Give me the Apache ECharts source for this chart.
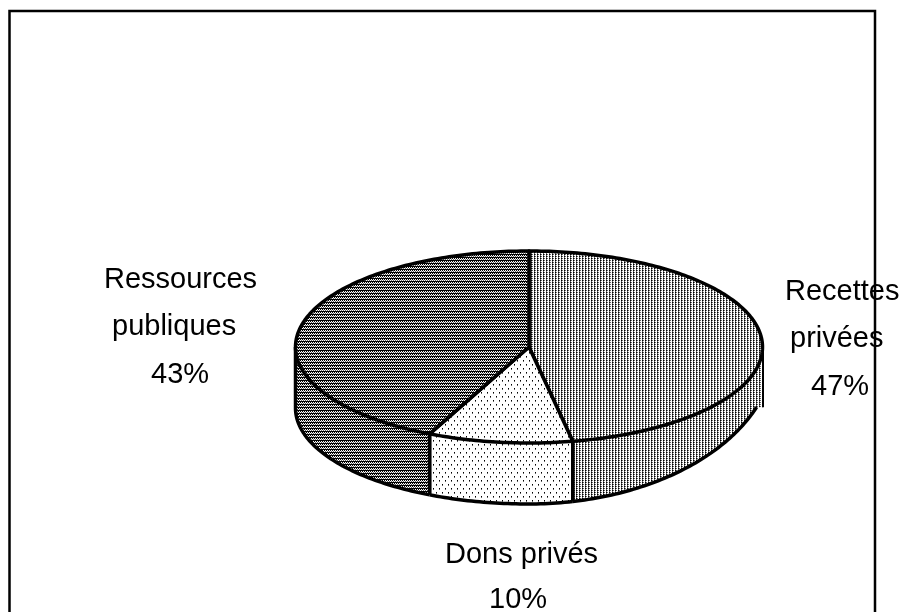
<!DOCTYPE html>
<html><head><meta charset="utf-8">
<style>html,body{margin:0;padding:0;background:#fff}#c{width:906px;height:612px}</style>
<script src="https://cdn.jsdelivr.net/npm/echarts@6/dist/echarts.min.js"></script>
</head><body><div id="c"></div>
<script>
const categories = ['Recettes privées', 'Dons privés', 'Ressources publiques'];
const shares = [47, 10, 43];
const labelLines = [['Recettes', 'privées'], ['Dons privés'], ['Ressources', 'publiques']];

// layout: left x and baseline y of each label line
const labelBoxes = [
  [[785, 300], [790, 347], [811, 395]],
  [[445, 563], [489, 608]],
  [[104, 288], [112, 335], [151, 383]]
];
const disc = {cx: 529, cy: 347, rx: 233.5, ry: 96, depth: 61, rightA: 246, rightB: 156, rightCy: 348, rightStop: 757, rightEdge: 763};
const fontPx = 29;

function tile(rows) {
  const c = document.createElement('canvas');
  c.width = rows[0].length; c.height = rows.length;
  const g = c.getContext('2d');
  const map = {'#': '#000', '+': '#666', '-': '#bbb', '.': '#fff'};
  rows.forEach((r, y) => [...r].forEach((ch, x) => { g.fillStyle = map[ch]; g.fillRect(x, y, 1, 1); }));
  return {image: c, repeat: 'repeat'};
}
const patterns = [
  tile(['#+.', '+..']),
  tile(['.#....', '.+....', '......', '......', '....#.', '....+.', '......', '......']),
  tile(['#.#.', '.+.+', '####'])
];

const sum = shares.reduce((a, b) => a + b, 0);
const rad = d => d * Math.PI / 180;
const rimPt = d => [disc.cx + disc.rx * Math.sin(rad(d)), disc.cy - disc.ry * Math.cos(rad(d))];
function bottomPt(d) {
  const x = disc.cx + disc.rx * Math.sin(rad(d));
  if (x <= disc.cx) return [x, disc.cy + disc.depth - disc.ry * Math.cos(rad(d))];
  const t = (x - disc.cx) / disc.rightA;
  return [x, disc.rightCy + disc.rightB * Math.sqrt(1 - t * t)];
}
function arc(f, a, b) {
  const pts = [], n = Math.max(2, Math.ceil(Math.abs(b - a)));
  for (let i = 0; i <= n; i++) pts.push(f(a + (b - a) * i / n));
  return pts;
}
const ink = {stroke: '#000', lineWidth: 3.5, fill: null, lineJoin: 'round'};

function renderItem(params, api) {
  const i = params.dataIndex, v = api.value(0);
  const before = shares.slice(0, i).reduce((a, b) => a + b, 0);
  const a0 = before / sum * 360, a1 = (before + v) / sum * 360;
  const kids = [];
  const f0 = Math.max(a0, 90), f1 = Math.min(a1, 270);
  if (f1 > f0) {
    let bot = arc(bottomPt, f1, f0);
    let tail = [];
    const clipped = bot.filter(p => p[0] <= disc.rightStop);
    if (clipped.length < bot.length) {
      const e = clipped[clipped.length - 1];
      tail = [[disc.rightEdge, e[1]], [disc.rightEdge, disc.cy]];
      bot = clipped;
    }
    kids.push({type: 'polygon', shape: {points: arc(rimPt, f0, f1).concat(bot, tail)}, style: {fill: patterns[i]}});
    kids.push({type: 'polyline', shape: {points: bot}, style: ink});
    [f0, f1].forEach(d => {
      const top = rimPt(d), low = bottomPt(d);
      if (d > 90 && d <= 270) kids.push({type: 'line', shape: {x1: top[0], y1: top[1], x2: low[0], y2: low[1]}, style: {stroke: '#000', lineWidth: 3.5}});
    });
    if (tail.length) kids.push({type: 'line', shape: {x1: disc.rightEdge, y1: disc.cy, x2: disc.rightEdge, y2: tail[0][1]}, style: {stroke: '#000', lineWidth: 2}});
  }
  const face = [[disc.cx, disc.cy]].concat(arc(rimPt, a0, a1));
  kids.push({type: 'polygon', shape: {points: face}, style: Object.assign({}, ink, {fill: patterns[i]})});
  labelLines[i].concat([v + '%']).forEach((txt, k) => {
    const b = labelBoxes[i][k];
    kids.push({type: 'text', style: {text: txt, x: b[0], y: b[1] - fontPx * 0.26, fill: '#000',
      font: fontPx + 'px "Liberation Sans", Arial, sans-serif', textAlign: 'left', textVerticalAlign: 'middle', verticalAlign: 'middle'}});
  });
  return {type: 'group', children: kids};
}

const chart = echarts.init(document.getElementById('c'), null, {renderer: 'canvas'});
chart.setOption({
  animation: false,
  backgroundColor: '#fff',
  graphic: [{type: 'polyline', z: 10, silent: true,
    shape: {points: [[9.5, 620], [9.5, 11], [875, 11], [875, 620]]},
    style: {stroke: '#000', lineWidth: 2.5, fill: null}}],
  series: [{type: 'custom', coordinateSystem: 'none', renderItem: renderItem, silent: true,
    data: categories.map((name, i) => ({name: name, value: [shares[i]]}))}]
});
</script></body></html>
